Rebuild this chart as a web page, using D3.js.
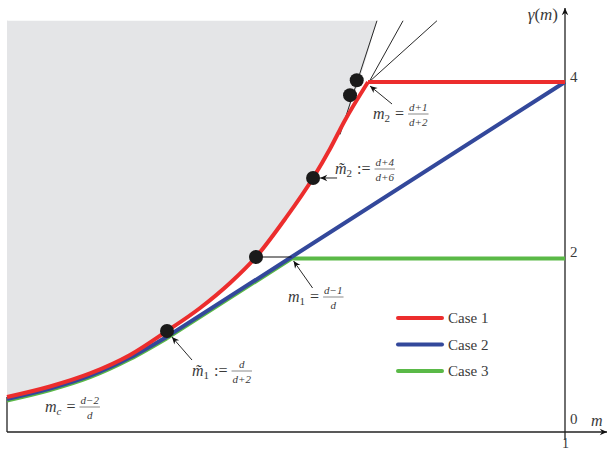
<!DOCTYPE html>
<html>
<head>
<meta charset="utf-8">
<script src="https://cdn.jsdelivr.net/npm/d3@7"></script>
<style>
  body { margin: 0; background: #fff; }
  text { font-family: "Liberation Serif", "DejaVu Serif", serif; fill: #3a3a3a; }
</style>
</head>
<body>
<svg id="chart"></svg>
<script>
// data (m on x, gamma(m) on y) with d = 5
const mDomain = [0.6, 1]
const gammaDomain = [0, 4]
const shadeTop = 4.7
const yTickValues = [0, 2, 4]
const xTickValues = [1]

// boundary of the shaded region = Case 1 curved part
const case1Curve = [
  [0.6000, 0.400], [0.6308, 0.520], [0.6595, 0.669], [0.6882, 0.880],
  [0.7147, 1.154], [0.7384, 1.417], [0.7599, 1.703], [0.7785, 2.000],
  [0.7993, 2.434], [0.8194, 2.903], [0.8315, 3.234], [0.8416, 3.543],
  [0.8588, 4.000]
]
const case1Straight = [[0.8588, 4.0], [1, 4.0]]

const case2Curve = [
  [0.6000, 0.378], [0.6308, 0.497], [0.6595, 0.644], [0.6882, 0.852],
  [0.7147, 1.090]
]
const case2Straight = [[0.7147, 1.090], [0.8040, 2.0], [1, 4.0]]

const case3Curve = case2Curve
const case3Straight = [[0.7147, 1.090], [0.8040, 2.0], [1, 2.0]]

const shadeEdge = [[0.8416, 3.543], [0.8652, 4.7]]
const fanLines = [
  [[0.8387, 3.40], [0.8652, 4.7]],
  [[0.8595, 4.0], [0.8839, 4.7]],
  [[0.8595, 4.0], [0.9082, 4.7]]
]
const dots = [[0.7147, 1.154], [0.7785, 2.0], [0.8194, 2.903], [0.8459, 3.85], [0.8507, 4.02]]
const m1Link = [[0.7785, 2.0], [0.8040, 2.0]]

const caseNames = ['Case 1', 'Case 2', 'Case 3']
const caseColors = ['#ec2d2d', '#33489b', '#5ab947']

const W = 609, H = 452
const svg = d3.select('#chart').attr('width', W).attr('height', H)

const x = d3.scaleLinear().domain(mDomain).range([7, 565])
const y = d3.scaleLinear().domain(gammaDomain).range([432, 82])

const defs = svg.append('defs')
defs.append('marker')
  .attr('id', 'arr').attr('viewBox', '-9 -5 10 10')
  .attr('refX', 0).attr('refY', 0)
  .attr('markerWidth', 9).attr('markerHeight', 9)
  .attr('markerUnits', 'userSpaceOnUse')
  .attr('orient', 'auto')
  .append('path').attr('d', 'M0,0 L-8,-3.6 L-5.5,0 L-8,3.6 Z').attr('fill', '#111')

// shaded region
const area = d3.area().x(d => x(d[0])).y0(y(shadeTop)).y1(d => y(d[1])).curve(d3.curveMonotoneX)
svg.append('path')
  .attr('d', area(case1Curve.slice(0, 12).concat([shadeEdge[1]])))
  .attr('fill', '#e4e5e7')
svg.append('rect')
  .attr('x', x(mDomain[0])).attr('y', y(shadeTop))
  .attr('width', 1).attr('height', y(0.4) - y(shadeTop))
  .attr('fill', '#e4e5e7')

// tangent / fan lines
const straight = d3.line().x(d => x(d[0])).y(d => y(d[1]))
const smooth = d3.line().x(d => x(d[0])).y(d => y(d[1])).curve(d3.curveMonotoneX)
fanLines.forEach(l => {
  svg.append('path').attr('d', straight(l)).attr('stroke', '#111').attr('stroke-width', 0.9).attr('fill', 'none')
})

// axes
svg.append('line').attr('x1', x(mDomain[0])).attr('x2', 607).attr('y1', y(0)).attr('y2', y(0))
  .attr('stroke', '#222').attr('stroke-width', 1.3).attr('marker-end', 'url(#arr)')
svg.append('line').attr('x1', x(mDomain[0])).attr('x2', x(mDomain[0])).attr('y1', y(0)).attr('y2', y(0.4))
  .attr('stroke', '#222').attr('stroke-width', 1.3)
svg.append('line').attr('x1', x(1)).attr('x2', x(1)).attr('y1', y(0) + 8).attr('y2', 8)
  .attr('stroke', '#222').attr('stroke-width', 1.3).attr('marker-end', 'url(#arr)')

const yAxis = d3.axisRight(y).tickValues(yTickValues).tickSize(0).tickPadding(5).tickFormat(d3.format('d'))
const gy = svg.append('g').attr('transform', `translate(${x(1)},0)`).call(yAxis)
gy.select('.domain').remove()
gy.selectAll('text').attr('font-size', 15).attr('dy', d => d === 0 ? '-0.55em' : '-0.05em')
  .style('font-family', '"Liberation Serif", serif').attr('fill', '#3a3a3a')

const xAxis = d3.axisBottom(x).tickValues(xTickValues).tickSize(0).tickPadding(6).tickFormat(d3.format('d'))
const gx = svg.append('g').attr('transform', `translate(0,${y(0)})`).call(xAxis)
gx.select('.domain').remove()
gx.selectAll('text').attr('font-size', 14).style('font-family', '"Liberation Serif", serif').attr('fill', '#3a3a3a')

svg.append('text').attr('x', 558).attr('y', 20).attr('text-anchor', 'end').attr('font-size', 17)
  .html('<tspan font-style="italic">γ</tspan>(<tspan font-style="italic">m</tspan>)')
svg.append('text').attr('x', 591).attr('y', 426).attr('font-size', 16).attr('font-style', 'italic').text('m')

// case lines (green under blue under red)
const series = [
  [case3Curve, case3Straight, 2, 1.5],
  [case2Curve, case2Straight, 1, 0],
  [case1Curve, case1Straight, 0, 0]
]
series.forEach(([c, s, i, off]) => {
  const g = svg.append('g').attr('transform', `translate(0,${off})`)
  g.append('path').attr('d', smooth(c)).attr('stroke', caseColors[i]).attr('stroke-width', 4).attr('fill', 'none')
  g.append('path').attr('d', straight(s)).attr('stroke', caseColors[i]).attr('stroke-width', 4)
    .attr('fill', 'none').attr('stroke-linejoin', 'miter')
})

svg.append('path').attr('d', straight(m1Link)).attr('stroke', '#111').attr('stroke-width', 1)

svg.selectAll('circle.pt').data(dots).enter().append('circle')
  .attr('cx', d => x(d[0])).attr('cy', d => y(d[1])).attr('r', 7).attr('fill', '#1a1a1a')

// annotations
const notes = [
  { at: [0.8588, 4.0], tip: [2, 4], tail: [24, 22], tx: 373, ty: 119, main: 'm', sub: '2', op: '=', num: 'd+1', den: 'd+2' },
  { at: [0.8194, 2.903], tip: [7, 0], tail: [24, 0], tx: 335, ty: 174, main: 'm\u0303', sub: '2', op: ':=', num: 'd+4', den: 'd+6' },
  { at: [0.8040, 2.0], tip: [2, 4], tail: [21, 31], tx: 288, ty: 302, main: 'm', sub: '1', op: '=', num: 'd\u22121', den: 'd' },
  { at: [0.7147, 1.154], tip: [5, 6], tail: [25, 29], tx: 192, ty: 376, main: 'm\u0303', sub: '1', op: ':=', num: 'd', den: 'd+2' },
  { at: null, tx: 45, ty: 412, main: 'm', sub: 'c', op: '=', num: 'd\u22122', den: 'd' }
]
notes.forEach(n => {
  if (n.at) {
    const px = x(n.at[0]), py = y(n.at[1])
    svg.append('line')
      .attr('x1', px + n.tail[0]).attr('y1', py + n.tail[1])
      .attr('x2', px + n.tip[0]).attr('y2', py + n.tip[1])
      .attr('stroke', '#111').attr('stroke-width', 0.9).attr('marker-end', 'url(#arr)')
  }
  const t = svg.append('text').attr('x', n.tx).attr('y', n.ty).attr('font-size', 16)
  t.append('tspan').attr('font-style', 'italic').text(n.main)
  t.append('tspan').attr('font-size', 11).attr('dy', 3).attr('font-style', n.sub === 'c' ? 'italic' : 'normal').text(n.sub)
  t.append('tspan').attr('dy', -3).attr('dx', 5).text(n.op)
  const endX = n.tx + t.node().getComputedTextLength() + 5 + 4
  const numT = svg.append('text').attr('y', n.ty - 8).attr('text-anchor', 'middle')
    .attr('font-size', 11).attr('font-style', 'italic').text(n.num)
  const denT = svg.append('text').attr('y', n.ty + 6.5).attr('text-anchor', 'middle')
    .attr('font-size', 11).attr('font-style', 'italic').text(n.den)
  const w = Math.max(numT.node().getComputedTextLength(), denT.node().getComputedTextLength()) + 2
  const fx = endX + w / 2
  numT.attr('x', fx)
  denT.attr('x', fx)
  svg.append('line').attr('x1', fx - w / 2).attr('x2', fx + w / 2)
    .attr('y1', n.ty - 5).attr('y2', n.ty - 5).attr('stroke', '#3a3a3a').attr('stroke-width', 0.6)
})

// legend
const legend = svg.append('g')
caseNames.forEach((name, i) => {
  const ly = 318 + i * 26.5
  legend.append('line').attr('x1', 398).attr('x2', 442).attr('y1', ly).attr('y2', ly)
    .attr('stroke', caseColors[i]).attr('stroke-width', 4).attr('stroke-linecap', 'round')
  legend.append('text').attr('x', 448).attr('y', ly + 5).attr('font-size', 15).text(name)
})
</script>
</body>
</html>
